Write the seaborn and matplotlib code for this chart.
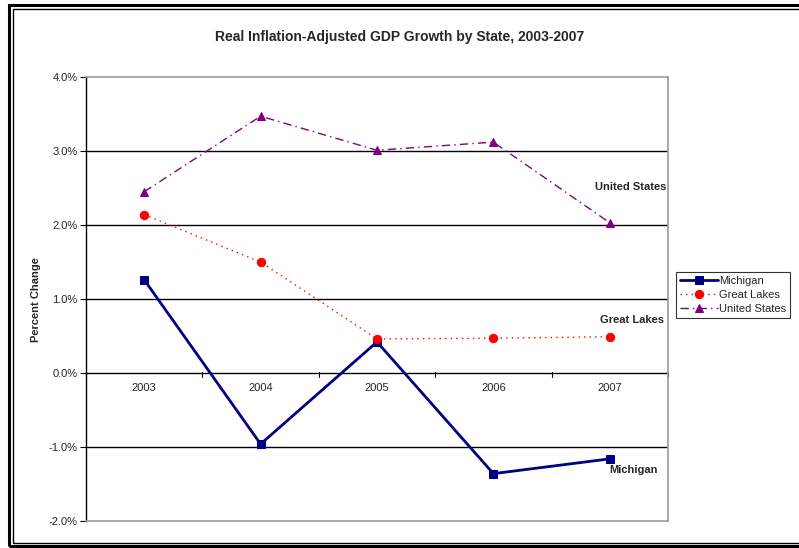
import matplotlib
matplotlib.use("Agg")
import matplotlib.pyplot as plt
from matplotlib.patches import Rectangle
from matplotlib.ticker import FuncFormatter, MultipleLocator
import pandas as pd
import seaborn as sns

years = ["2003", "2004", "2005", "2006", "2007"]
michigan = [1.26, -0.96, 0.42, -1.36, -1.16]
great_lakes = [2.14, 1.50, 0.46, 0.47, 0.49]
united_states = [2.45, 3.47, 3.01, 3.12, 2.03]
series_names = ["Michigan", "Great Lakes", "United States"]

sns.set_theme(style="white")
plt.rcParams["font.family"] = ["Liberation Sans", "DejaVu Sans"]

rows = []
for name, vals in zip(series_names, [michigan, great_lakes, united_states]):
    for i, v in enumerate(vals):
        rows.append({"pos": i, "year": years[i], "series": name, "value": v})
df = pd.DataFrame(rows)

fig = plt.figure(figsize=(7.99, 5.48), dpi=100)
ax = fig.add_axes([86 / 799, 1 - 521 / 548, (668 - 86) / 799, (521 - 77) / 548])

styles = {
    "Michigan": dict(color="#000080", marker="s", linestyle="-", lw=2.0, ms=6),
    "Great Lakes": dict(color="#ff0000", marker="o", linestyle=(0, (1, 3)), lw=1.0, ms=6),
    "United States": dict(color="#800080", marker="^", linestyle=(0, (6, 3, 1, 3)), lw=1.0, ms=6),
}
for name in series_names:
    st = styles[name]
    sns.lineplot(data=df[df.series == name], x="pos", y="value", ax=ax,
                 color=st["color"], marker=st["marker"], linestyle=st["linestyle"],
                 linewidth=st["lw"], markersize=st["ms"], markeredgecolor=st["color"],
                 label=name, errorbar=None, clip_on=False)

ax.set_xlim(-0.5, 4.5)
ax.set_ylim(-2.0, 4.0)
ax.yaxis.set_major_locator(MultipleLocator(1.0))
ax.yaxis.set_major_formatter(FuncFormatter(lambda v, p: f"{v:.1f}%"))
ax.set_xticks([])
ax.grid(False)
for y in [-1, 1, 2, 3]:
    ax.axhline(y, color="black", lw=1.0, zorder=0.5)
# category axis at zero with boundary ticks
ax.axhline(0, color="black", lw=1.0, zorder=0.6)
for b in [-0.5, 0.5, 1.5, 2.5, 3.5, 4.5]:
    ax.plot([b, b], [0.02, -0.06], color="black", lw=0.8, zorder=0.6, clip_on=False)
for i, yr in enumerate(years):
    ax.text(i, -0.14, yr, ha="center", va="top", fontsize=8)

for side in ["top", "right", "bottom"]:
    ax.spines[side].set_color("#999999")
    ax.spines[side].set_linewidth(1.2)
ax.spines["left"].set_color("black")
ax.spines["left"].set_linewidth(1.0)
ax.tick_params(axis="y", length=4, width=0.8, direction="out", labelsize=8, pad=2, left=True, color="black")

ax.set_xlabel("")
ax.set_ylabel("")
fig.text(36 / 799, 1 - 300 / 548, "Percent Change", rotation=90, fontsize=8,
         fontweight="bold", ha="center", va="center")

ax.text(4.18, 2.52, "United States", fontsize=8, fontweight="bold", ha="center", va="center")
ax.text(4.19, 0.71, "Great Lakes", fontsize=8, fontweight="bold", ha="center", va="center")
ax.text(4.2, -1.31, "Michigan", fontsize=8, fontweight="bold", ha="center", va="center")

fig.text(400 / 799, 1 - 37 / 548, "Real Inflation-Adjusted GDP Growth by State, 2003-2007",
         ha="center", va="center", fontsize=10, fontweight="bold")

leg = ax.legend(loc="upper left", bbox_to_anchor=(676 / 799, 1 - 272 / 548),
                bbox_transform=fig.transFigure, fontsize=8, frameon=True,
                fancybox=False, edgecolor="black", borderpad=0.35, labelspacing=0.38,
                handlelength=3.4, handletextpad=0.1, borderaxespad=0, markerscale=1.0)
leg.get_frame().set_linewidth(0.8)

# double frame around the chart
fig.patches.append(Rectangle((9 / 799, 1 - 546 / 548), 1.2, (546 - 5) / 548,
                             transform=fig.transFigure, fill=False, ec="black", lw=2.2))
fig.patches.append(Rectangle((12.5 / 799, 1 - 543 / 548), 1.2, (543 - 9) / 548,
                             transform=fig.transFigure, fill=False, ec="black", lw=1.0))

fig.savefig("out.png", dpi=100)
